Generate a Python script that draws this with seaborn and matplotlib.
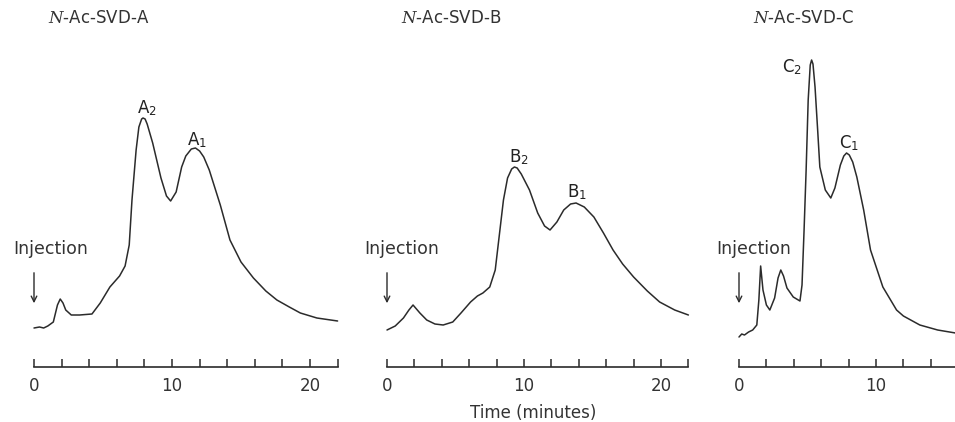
import numpy as np
import pandas as pd
import seaborn as sns
import matplotlib.pyplot as plt

sns.set_style('white')
plt.rcParams['font.family'] = ['DejaVu Sans']
plt.rcParams['mathtext.fontset'] = 'custom'
plt.rcParams['mathtext.rm'] = 'DejaVu Sans'
plt.rcParams['mathtext.it'] = 'DejaVu Serif:italic'

# detector response (arbitrary units) vs time (minutes)
time_a = [0.0, 0.4, 0.7, 1.0, 1.4, 1.7, 1.9, 2.1, 2.3, 2.7, 3.3, 4.2, 4.8, 5.5, 6.2, 6.6, 6.9, 7.1,
          7.4, 7.6, 7.8, 7.9, 8.05, 8.2, 8.6, 9.2, 9.6, 9.9, 10.3, 10.7, 11.0, 11.4, 11.7, 12.0,
          12.3, 12.7, 13.5, 14.2, 15.0, 15.9, 16.8, 17.6, 18.5, 19.3, 20.5, 22.0]
resp_a = [39, 40, 39, 41, 45, 62, 68, 64, 57, 52, 52, 53, 64, 80, 91, 101, 122, 167,
          217, 240, 248, 249, 248, 243, 224, 189, 171, 166, 175, 200, 211, 218, 219, 216,
          210, 197, 162, 127, 105, 89, 76, 67, 60, 54, 49, 46]

time_b = [0.0, 0.3, 0.6, 0.9, 1.2, 1.4, 1.6, 1.9, 2.4, 2.9, 3.5, 4.1, 4.8, 5.4, 6.1, 6.6, 7.0, 7.5,
          7.9, 8.2, 8.5, 8.8, 9.1, 9.3, 9.5, 9.8, 10.4, 11.0, 11.5, 11.9, 12.4, 12.9, 13.4, 13.8,
          14.4, 15.1, 15.8, 16.5, 17.2, 18.0, 19.0, 19.9, 21.0, 22.0]
resp_b = [37, 39, 41, 45, 49, 53, 57, 62, 54, 47, 43, 42, 45, 54, 65, 71, 74, 80,
          97, 132, 167, 189, 198, 200, 199, 193, 177, 154, 141, 137, 145, 157, 163, 164,
          160, 150, 134, 117, 103, 90, 76, 65, 57, 52]

time_c = [0.0, 0.2, 0.4, 0.7, 1.0, 1.3, 1.45, 1.58, 1.75, 2.0, 2.25, 2.6, 2.85, 3.05, 3.25, 3.5,
          3.96, 4.45, 4.6, 4.75, 4.9, 5.05, 5.2, 5.3, 5.4, 5.55, 5.75, 5.9, 6.3, 6.7, 7.0, 7.4,
          7.65, 7.85, 8.05, 8.3, 8.6, 9.1, 9.6, 10.5, 11.5, 12.0, 13.2, 14.5, 15.8]
resp_c = [30, 33, 32, 35, 37, 42, 67, 101, 77, 62, 57, 69, 89, 97, 91, 79,
          70, 66, 82, 137, 197, 267, 302, 307, 303, 280, 235, 200, 177, 169, 179, 202,
          211, 214, 212, 205, 190, 157, 117, 80, 57, 51, 42, 37, 34]

titles = ['-Ac-SVD-A', '-Ac-SVD-B', '-Ac-SVD-C']
peak_labels = [['A$_2$', 'A$_1$'], ['B$_2$', 'B$_1$'], ['C$_2$', 'C$_1$']]
peak_pos = [[(8.2, 259), (11.8, 227)], [(9.6, 210), (13.9, 175)], [(3.9, 300), (8.0, 224)]]
inj_text_x = [1.2, 1.06, 1.1]
x_end = [22, 22, 15.85]

W, H = 955, 422
fig = plt.figure(figsize=(W / 100, H / 100), dpi=100)

# axes placement in pixels: (position of t=0, pixels per minute, right limit)
layout = [(34, 13.8, 22.3), (387, 13.7, 22.3), (739, 13.7, 15.85)]
ax_bottom, ax_top = 367, 37

ink = '#2b2b2b'
traces = [(time_a, resp_a), (time_b, resp_b), (time_c, resp_c)]

for i, (t, r) in enumerate(traces):
    x0, ppm, xr = layout[i]
    left = x0 - 2 * ppm
    width = (xr + 2) * ppm
    ax = fig.add_axes([left / W, 1 - ax_bottom / H, width / W, (ax_bottom - ax_top) / H])
    df = pd.DataFrame({'time': t, 'response': r})
    sns.lineplot(data=df, x='time', y='response', ax=ax, color=ink, lw=1.1, sort=False)
    ax.set_xlim(-2, xr)
    ax.set_ylim(0, ax_bottom - ax_top)
    ax.set_xlabel('')
    ax.set_ylabel('')
    ax.set_yticks([])
    for s in ['top', 'left', 'right']:
        ax.spines[s].set_visible(False)
    ax.spines['bottom'].set_bounds(0, x_end[i])
    ax.spines['bottom'].set_color(ink)
    ax.spines['bottom'].set_linewidth(1.2)
    ax.set_xticks([0, 10, 20] if x_end[i] > 20 else [0, 10])
    ax.set_xticks(np.arange(0, x_end[i] + 0.01, 2), minor=True)
    ax.tick_params(axis='x', which='both', bottom=True, direction='in', length=6, width=1.1,
                   color=ink, labelsize=12, labelcolor='#333333', pad=7)
    ax.patch.set_alpha(0)

    ax.text(1.0, 349, r'$\mathit{N}$' + titles[i], fontsize=12, color='#333333',
            ha='left', va='center', clip_on=False)
    for lab, (px, py) in zip(peak_labels[i], peak_pos[i]):
        ax.text(px, py, lab, fontsize=12, color='#222222', ha='center', va='center')
    ax.text(inj_text_x[i], 118, 'Injection', fontsize=12.5, color='#333333',
            ha='center', va='center', clip_on=False)
    ax.annotate('', xy=(0, 61), xytext=(0, 97),
                arrowprops=dict(arrowstyle='->', color=ink, lw=1.0), annotation_clip=False)

fig.text(533 / W, 1 - 413 / H, 'Time (minutes)', fontsize=12, color='#333333',
         ha='center', va='center')

fig.savefig('out.png', dpi=100)
